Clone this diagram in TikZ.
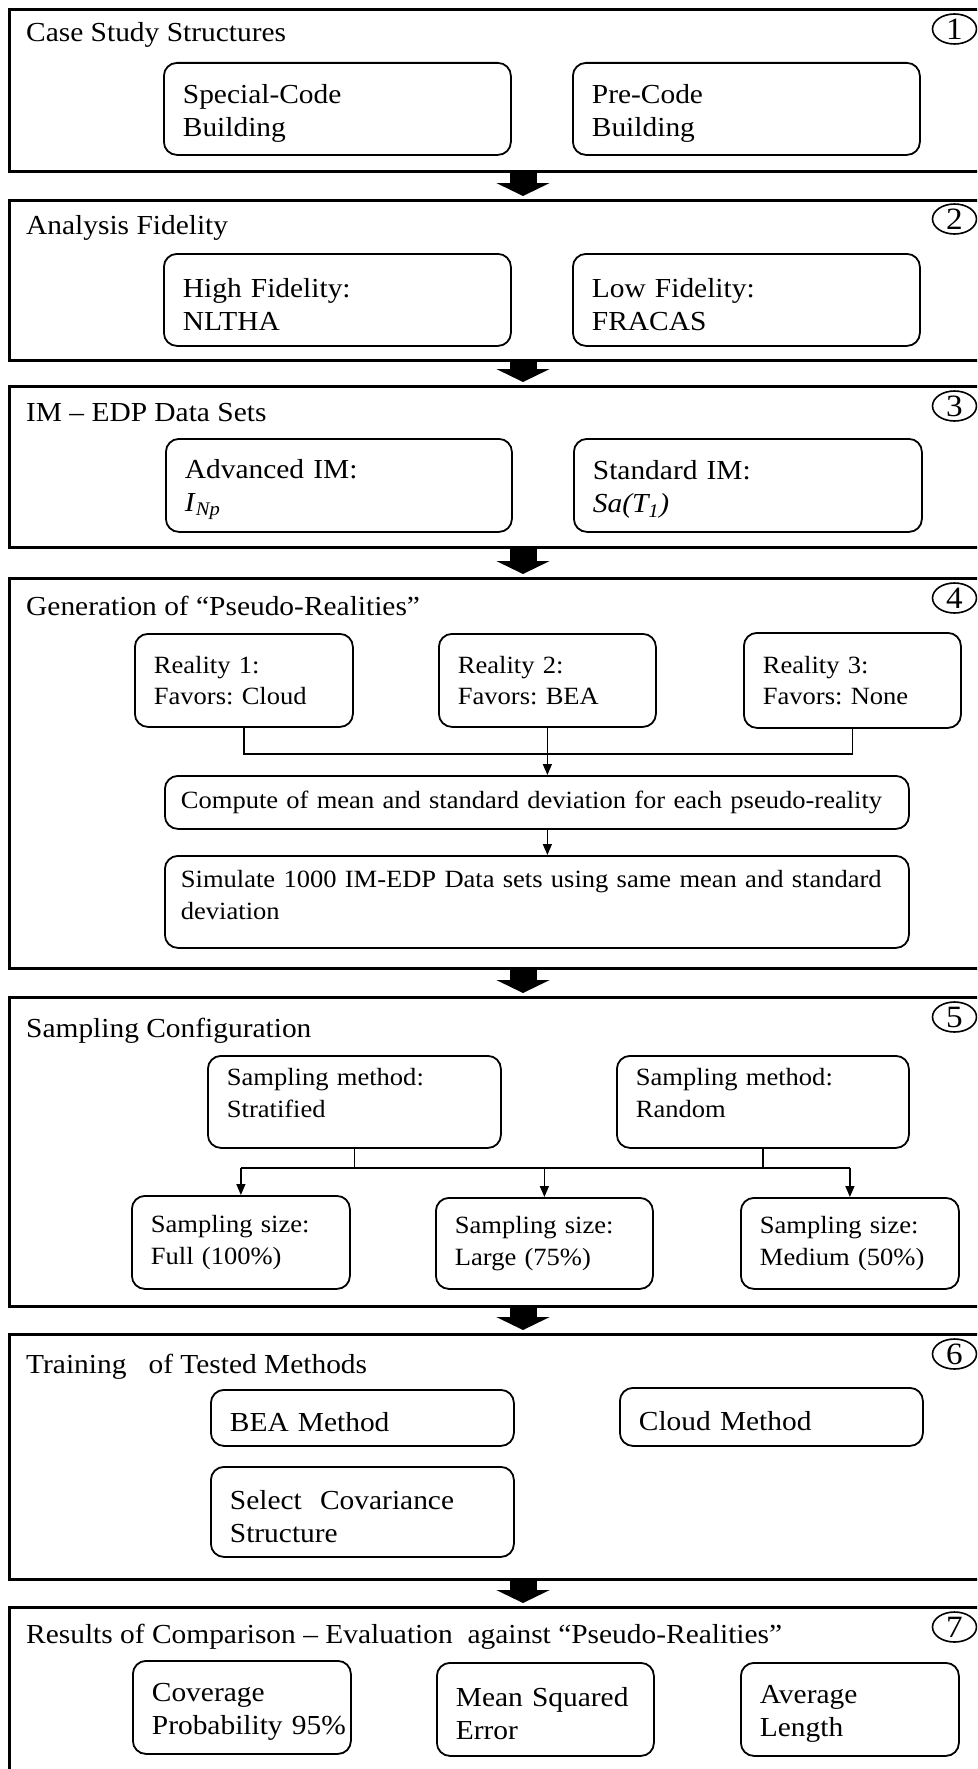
\documentclass[tikz,border=0pt]{standalone}
\usepackage{fontspec}
\setmainfont[FakeStretch=1.07]{Liberation Serif}
\usetikzlibrary{arrows.meta,shapes.geometric,calc}
\newcommand\mainsz{\fontsize{27.5pt}{33pt}\selectfont}
\newcommand\smallsz{\fontsize{24.8pt}{31.5pt}\selectfont}
\newcommand\numsz{\fontsize{31pt}{32pt}\selectfont}
\frenchspacing
\hyphenpenalty=10000
\exhyphenpenalty=10000
\begin{document}
\begin{tikzpicture}[x=1pt,y=-1pt,
 obox/.style={draw,line width=3pt,anchor=north west,minimum width=984pt,inner sep=0pt},
 head/.style={anchor=base west,inner sep=0pt,font=\mainsz},
 num/.style={ellipse,draw,line width=1.6pt,minimum width=44pt,minimum height=30pt,inner sep=0pt,font=\numsz},
 ibox/.style={draw,line width=1.8pt,rounded corners=13pt,anchor=north west,inner xsep=19pt,inner ysep=0pt,align=left,font=\mainsz,execute at begin node={\rule{0pt}{28pt}}},
 sbox/.style={draw,line width=1.8pt,rounded corners=13pt,anchor=north west,inner xsep=19pt,inner ysep=0pt,align=left,font=\smallsz},
 raise/.style={execute at end node={\rule[-#1]{0pt}{0pt}}},
 conn/.style={line width=1.4pt},
 arr/.style={line width=1.4pt,-{Triangle[length=11pt,width=9pt]}},
 fat/.style={line width=27pt,-{Triangle[length=13pt,width=53pt]}}]
\useasboundingbox (0,0) rectangle (977,1769);
\fill[white] (0,0) rectangle (977,1769);
\clip (0,0) rectangle (977,1769);
% ---------- Section 1
\node[obox,minimum height=162pt] (S1) at (8,8) {};
\node[head] (H1) at (26,42) {Case Study Structures};
\node[num] (N1) at (954.5,29) {1};
\node[ibox,text width=309pt,minimum height=92pt] (A1) at (163,62) {Special-Code\\Building};
\node[ibox,text width=309pt,minimum height=92pt] (B1) at (572,62) {Pre-Code\\Building};
% ---------- Section 2
\node[obox,minimum height=160pt] (S2) at (8,199) {};
\node[head] (H2) at (26,234) {Analysis Fidelity};
\node[num] (N2) at (954.5,219) {2};
\node[ibox,text width=309pt,minimum height=92pt] (A2) at (163,253) {High Fidelity:\\NLTHA};
\node[ibox,text width=309pt,minimum height=92pt] (B2) at (572,253) {Low Fidelity:\\FRACAS};
% ---------- Section 3
\node[obox,minimum height=161pt] (S3) at (8,385) {};
\node[head] (H3) at (26,421) {IM – EDP Data Sets};
\node[num] (N3) at (954.5,406) {3};
\node[ibox,text width=308pt,minimum height=93pt] (A3) at (165,438) {Advanced IM:\\\textit{I}\textsubscript{\textit{Np}}};
\node[ibox,text width=310pt,minimum height=93pt] (B3) at (573,438) {Standard IM:\\\textit{Sa(T\textsubscript{1})}};
% ---------- Section 4
\node[obox,minimum height=390pt] (S4) at (8,577) {};
\node[head] (H4) at (26,615) {Generation of “Pseudo-Realities”};
\node[num] (N4) at (954.5,598) {4};
\node[sbox,text width=180pt,minimum height=93pt] (R1) at (134,633) {Reality 1:\\Favors: Cloud};
\node[sbox,text width=179pt,minimum height=93pt] (R2) at (438,633) {Reality 2:\\Favors: BEA};
\node[sbox,text width=179pt,minimum height=95pt] (R3) at (743,632) {Reality 3:\\Favors: None};
\node[sbox,inner xsep=16pt,text width=712pt,minimum height=53pt] (Comp) at (164,775) {Compute of mean and standard deviation for each pseudo-reality};
\node[sbox,raise=14pt,inner xsep=16pt,text width=712pt,minimum height=92pt] (Sim) at (164,855) {Simulate 1000 IM-EDP Data sets using same mean and standard\\deviation};
\draw[conn] (R1.south) -- ++(0,26) -| (R3.south);
\draw[arr] (R2.south) -- (R2.south |- Comp.north);
\draw[arr] (Comp.south -| R2.south) -- (Sim.north -| R2.south);
% ---------- Section 5
\node[obox,minimum height=309pt] (S5) at (8,996) {};
\node[head] (H5) at (26,1037) {Sampling Configuration};
\node[num] (N5) at (954.5,1017) {5};
\node[sbox,raise=18pt,text width=255pt,minimum height=92pt] (M1) at (207,1055) {Sampling method:\\Stratified};
\node[sbox,raise=18pt,text width=254pt,minimum height=92pt] (M2) at (616,1055) {Sampling method:\\Random};
\node[sbox,text width=180pt,minimum height=93pt] (Z1) at (131,1195) {Sampling size:\\Full (100\%)};
\node[sbox,text width=179pt,minimum height=91pt] (Z2) at (435,1197) {Sampling size:\\Large (75\%)};
\node[sbox,text width=180pt,minimum height=91pt] (Z3) at (740,1197) {Sampling size:\\Medium (50\%)};
\coordinate (bar) at (0,1168);
\draw[conn] (M1.south) -- (M1.south |- bar);
\draw[conn] (M2.south) -- (M2.south |- bar);
\draw[conn] (Z1.north |- bar) -- (Z3.north |- bar);
\draw[arr] (Z1.north |- bar) -- (Z1.north);
\draw[arr] (Z2.north |- bar) -- (Z2.north);
\draw[arr] (Z3.north |- bar) -- (Z3.north);
% ---------- Section 6
\node[obox,minimum height=245pt] (S6) at (8,1333) {};
\node[head] (H6) at (26,1373) {Training\ \ \ of Tested Methods};
\node[num] (N6) at (954.5,1354) {6};
\node[ibox,text width=265pt,minimum height=56pt] (BEA) at (210,1389) {BEA Method};
\node[ibox,text width=265pt,minimum height=58pt] (Cloud) at (619,1387) {Cloud Method};
\node[ibox,text width=265pt,minimum height=90pt] (Cov) at (210,1466) {Select\ \ Covariance\\Structure};
% ---------- Section 7
\node[obox,minimum height=200pt] (S7) at (8,1606) {};
\node[head] (H7) at (26,1643) {Results of Comparison – Evaluation\ \ against “Pseudo-Realities”};
\node[num] (N7) at (954.5,1627) {7};
\node[ibox,text width=180pt,minimum height=93pt] (C1) at (132,1660) {Coverage\\Probability~95\%};
\node[ibox,text width=179pt,minimum height=93pt] (C2) at (436,1662) {Mean Squared\\Error};
\node[ibox,text width=180pt,minimum height=93pt] (C3) at (740,1662) {Average\\Length};
% ---------- big arrows between sections
\draw[fat] ($(S1.south)+(21.5,0)$) -- ($(S2.north)+(21.5,-3)$);
\draw[fat] ($(S2.south)+(21.5,0)$) -- ($(S3.north)+(21.5,-3)$);
\draw[fat] ($(S3.south)+(21.5,0)$) -- ($(S4.north)+(21.5,-3)$);
\draw[fat] ($(S4.south)+(21.5,0)$) -- ($(S5.north)+(21.5,-3)$);
\draw[fat] ($(S5.south)+(21.5,0)$) -- ($(S6.north)+(21.5,-3)$);
\draw[fat] ($(S6.south)+(21.5,0)$) -- ($(S7.north)+(21.5,-3)$);
\end{tikzpicture}
\end{document}
